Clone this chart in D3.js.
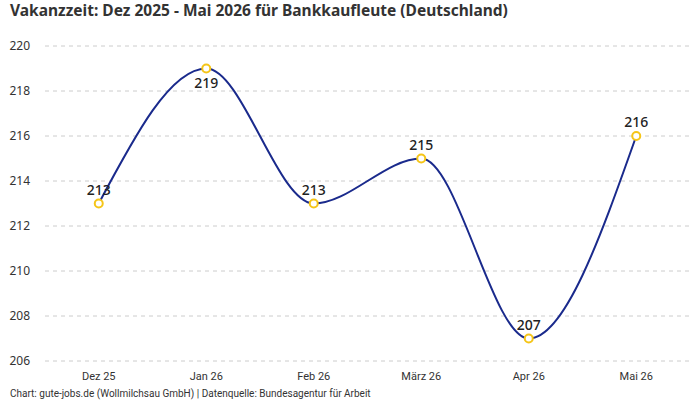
<!DOCTYPE html>
<html>
<head>
<meta charset="utf-8">
<script src="https://cdn.jsdelivr.net/npm/d3@7"></script>
<style>
  body { margin: 0; background: #fff; }
  svg { display: block; font-family: "Noto Sans", Roboto, sans-serif; }
</style>
</head>
<body>
<div id="chart"></div>
<script>
const months = ["Dez 25", "Jan 26", "Feb 26", "März 26", "Apr 26", "Mai 26"];
const values = [213, 219, 213, 215, 207, 216];
const yTicks = [206, 208, 210, 212, 214, 216, 218, 220];

const width = 700;
const height = 400;

const svg = d3.select("#chart")
    .append("svg")
    .attr("width", width)
    .attr("height", height);

const x = d3.scalePoint()
    .domain(months)
    .range([45, 690])
    .padding(0.5);

const y = d3.scaleLinear()
    .domain([206, 220])
    .range([361, 46]);

// title
svg.append("text")
    .attr("x", 10)
    .attr("y", 16)
    .style("font-size", "15.5px")
    .style("font-weight", "bold")
    .style("fill", "#333")
    .text("Vakanzzeit: Dez 2025 - Mai 2026 für Bankkaufleute (Deutschland)");

// grid
svg.selectAll(".grid")
    .data(yTicks)
    .enter()
    .append("line")
    .attr("class", "grid")
    .attr("x1", 45)
    .attr("x2", 690)
    .attr("y1", d => y(d))
    .attr("y2", d => y(d))
    .style("stroke", "#cccccc")
    .style("stroke-dasharray", "4,4")
    .style("stroke-width", 1);

// y labels
svg.selectAll(".ylab")
    .data(yTicks)
    .enter()
    .append("text")
    .attr("class", "ylab")
    .attr("x", 30)
    .attr("y", d => y(d) + 4)
    .attr("text-anchor", "end")
    .style("font-size", "12px")
    .style("fill", "#333")
    .text(d => d);

// x labels
svg.selectAll(".xlab")
    .data(months)
    .enter()
    .append("text")
    .attr("class", "xlab")
    .attr("x", d => x(d))
    .attr("y", 380)
    .attr("text-anchor", "middle")
    .style("font-family", "Roboto, sans-serif")
    .style("font-size", "11px")
    .style("fill", "#333")
    .text(d => d);

const data = months.map((m, i) => ({ month: m, value: values[i] }));

const line = d3.line()
    .x(d => x(d.month))
    .y(d => y(d.value))
    .curve(d3.curveMonotoneX);

svg.append("path")
    .datum(data)
    .attr("d", line)
    .style("fill", "none")
    .style("stroke", "#1a2a8c")
    .style("stroke-width", 2);

svg.selectAll(".pt")
    .data(data)
    .enter()
    .append("circle")
    .attr("class", "pt")
    .attr("cx", d => x(d.month))
    .attr("cy", d => y(d.value))
    .attr("r", 4)
    .style("fill", "#fff")
    .style("stroke", "#f5c518")
    .style("stroke-width", 2);

// value labels (above, except when too close to top)
svg.selectAll(".vlab")
    .data(data)
    .enter()
    .append("text")
    .attr("class", "vlab")
    .attr("x", d => x(d.month))
    .attr("y", d => y(d.value) > 80 ? y(d.value) - 9 : y(d.value) + 19)
    .attr("text-anchor", "middle")
    .style("font-size", "14px")
    .style("font-weight", "500")
    .style("fill", "#222")
    .text(d => d.value);

// footer
svg.append("text")
    .attr("x", 10)
    .attr("y", 397)
    .style("font-family", "Roboto, sans-serif")
    .style("font-size", "10px")
    .style("fill", "#333")
    .text("Chart: gute-jobs.de (Wollmilchsau GmbH) | Datenquelle: Bundesagentur für Arbeit");
</script>
</body>
</html>
